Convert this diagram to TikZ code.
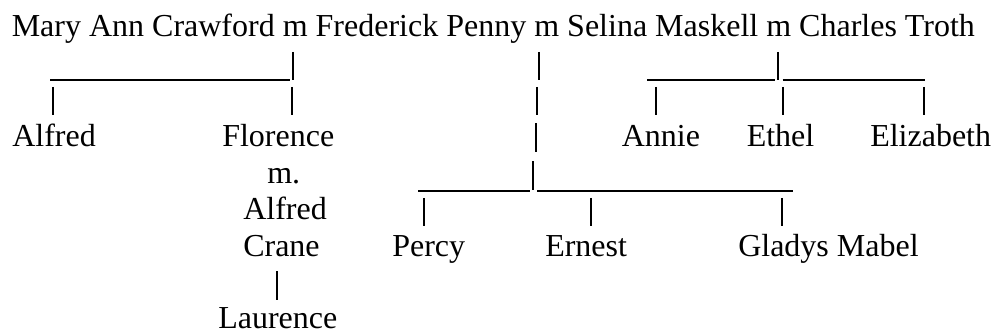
\documentclass[tikz,border=0pt]{standalone}
\usepackage{fontspec}
\setmainfont{Liberation Serif}
\usetikzlibrary{positioning}

\begin{document}
\begin{tikzpicture}[x=0.75pt,y=-0.75pt]
	\tikzstyle{every node}=[inner sep=0pt,anchor=base west,font=\fontsize{24}{28}\selectfont]
	\tikzstyle{stroke}=[line width=1pt,line cap=butt]
	\useasboundingbox (0,0) rectangle (992,331);
	
	%%names
	\node (parents)  at (11.5,37.0)  {Mary Ann Crawford m Frederick Penny m Selina Maskell m Charles Troth};
	\node (alfred)   at (12.0,147.0) {Alfred};
	\node (florence) at (222.0,147.0) {Florence};
	\node (annie)    at (621.5,147.0) {Annie};
	\node (ethel)    at (746.5,147.0) {Ethel};
	\node (elizabeth) at (870.0,147.0) {Elizabeth};
	\node (marr)     at (267.0,183.5) {m.};
	\node (husband)  at (243.0,220.0) {Alfred};
	\node (crane)    at (243.0,256.5) {Crane};
	\node (percy)    at (392.0,256.5) {Percy};
	\node (ernest)   at (545.0,256.5) {Ernest};
	\node (gladys)   at (738.0,256.5) {Gladys Mabel};
	\node (laurence) at (218.0,329.0) {Laurence};
	
	%%joins
	\coordinate (crawford) at (293.0,52.0);
	\coordinate (penny)    at (539.0,52.0);
	\coordinate (troth)    at (778.0,52.0);
	\coordinate (barA)     at (50.0,80.0);
	\coordinate (barB)     at (647.0,80.0);
	\coordinate (barC)     at (418.0,191.0);
	
	\draw [stroke] (crawford) -- ++(0,28);
	\draw [stroke] (penny) -- ++(0,28);
	\draw [stroke] (troth) -- ++(0,28);
	\draw [stroke] (barA) -- ++(240,0);
	\draw [stroke] (barB) -- ++(128,0);
	\draw [stroke] ([xshift=3.5pt]barB -| troth) -- (925.0,80.0);
	
	\draw [stroke] (53.0,87.0) -- ++(0,28.5);
	\draw [stroke] (292.0,87.0) -- ++(0,28.5);
	\draw [stroke] (537.0,87.0) -- ++(0,28.5);
	\draw [stroke] (656.0,87.0) -- ++(0,28.5);
	\draw [stroke] (783.0,87.0) -- ++(0,28.5);
	\draw [stroke] (924.0,87.0) -- ++(0,28.5);
	
	\draw [stroke] (536.0,123.5) -- ++(0,28.5);
	\draw [stroke] (533.0,161.5) -- ++(0,28.5);
	\draw [stroke] (barC) -- ++(112,0);
	\draw [stroke] (537.0,191.0) -- (793.0,191.0);
	
	\draw [stroke] (424.0,198.0) -- ++(0,28.5);
	\draw [stroke] (591.0,198.0) -- ++(0,28.5);
	\draw [stroke] (782.0,198.0) -- ++(0,28.5);
	\draw [stroke] (277.0,271.5) -- ++(0,28.5);

\end{tikzpicture}
\end{document}
